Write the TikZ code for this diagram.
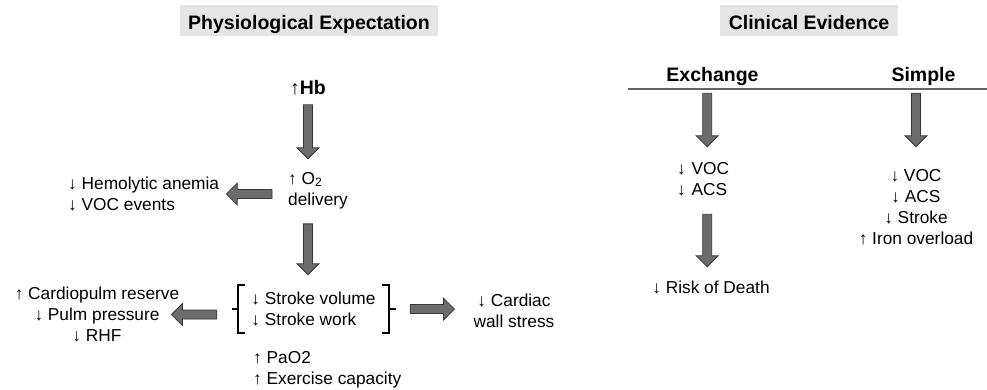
\documentclass[tikz,border=0pt]{standalone}
\usepackage{fontspec}
\setmainfont{Liberation Sans}
\usetikzlibrary{calc}
\definecolor{titlebg}{RGB}{229,229,229}
\definecolor{arrowfill}{RGB}{108,108,108}
\definecolor{arrowdraw}{RGB}{55,55,55}
\definecolor{rulegray}{RGB}{100,100,100}
\tikzset{
  txt/.style={font=\fontsize{17.3}{21}\selectfont, inner sep=0pt, text=black},
  hdr/.style={font=\bfseries\fontsize{19.5}{23}\selectfont, inner sep=0pt, text=black},
  titlebox/.style={fill=titlebg, font=\bfseries\fontsize{19.5}{23}\selectfont,
    inner sep=0pt, minimum height=31pt, text height=24.3pt, text depth=6.7pt},
  brk/.style={draw=black, line width=1.6pt},
  hline/.style={draw=rulegray, line width=1.3pt},
  barrow/.style 2 args={draw=arrowdraw, fill=arrowfill, line width=0.8pt, line join=miter,
    to path={
      ($(\tikztostart)!#1!(\tikztotarget)!4.5pt!90:(\tikztotarget)$)
      -- ($(\tikztotarget)!#2!(\tikztostart)!11pt!(\tikztostart)!4.5pt!90:(\tikztotarget)$)
      -- ($(\tikztotarget)!#2!(\tikztostart)!11pt!(\tikztostart)!11pt!90:(\tikztotarget)$)
      -- ($(\tikztotarget)!#2!(\tikztostart)$)
      -- ($(\tikztotarget)!#2!(\tikztostart)!11pt!(\tikztostart)!11pt!-90:(\tikztotarget)$)
      -- ($(\tikztotarget)!#2!(\tikztostart)!11pt!(\tikztostart)!4.5pt!-90:(\tikztotarget)$)
      -- ($(\tikztostart)!#1!(\tikztotarget)!4.5pt!-90:(\tikztotarget)$)
      -- cycle}}
}
\begin{document}
\begin{tikzpicture}[x=1pt,y=-1pt]
\useasboundingbox (0,0) rectangle (987,390);

% titles
\node[titlebox, minimum width=258pt] (t1) at (309,20.5) {Physiological Expectation};
\node[titlebox, minimum width=178pt] (t2) at (809,20.5) {Clinical Evidence};

% left panel
\node[hdr, anchor=base] (hb) at (308,95) {↑Hb};
\node[txt, anchor=north west, align=left] (o2) at (288,171.8) {↑ O\textsubscript{2}\\delivery};
\node[txt, anchor=north west, align=left] (hemo) at (68,176.8) {↓ Hemolytic anemia\\↓ VOC events};
\node[txt, align=left, inner xsep=13.5pt, minimum height=48pt] (stroke) at (313.5,309) {↓ Stroke volume\\↓ Stroke work};
\node[txt, anchor=north, align=center] (cardio) at (97,286.8) {↑ Cardiopulm reserve\\↓ Pulm pressure\\↓ RHF};
\node[txt, anchor=north, align=center] (cardiac) at (514,293.8) {↓ Cardiac\\wall stress};
\node[txt, anchor=north west, align=left] (pao2) at (253,350.8) {↑ PaO2\\↑ Exercise capacity};

% brackets
\draw[brk] ([xshift=7pt]stroke.north west) -- (stroke.north west) -- (stroke.south west) -- ([xshift=7pt]stroke.south west);
\draw[brk] (stroke.west) -- ++(-6,0);
\draw[brk] ([xshift=-7pt]stroke.north east) -- (stroke.north east) -- (stroke.south east) -- ([xshift=-7pt]stroke.south east);
\draw[brk] (stroke.east) -- ++(7,0);

% right panel
\node[hdr, anchor=base] (exch) at (712.5,82) {Exchange};
\node[hdr, anchor=base] (simp) at (923.5,82) {Simple};
\draw[hline] (628,89) -- (987,89);
\node[txt, anchor=north west, align=left, text width=60pt] (voc1) at (677,161.8) {↓ VOC\\↓ ACS};
\node[txt, anchor=north] (death) at (711,280.8) {↓ Risk of Death};
\node[txt, anchor=north, align=center] (slist) at (916,168.8) {↓ VOC\\↓ ACS\\↓ Stroke\\↑ Iron overload};

% block arrows
\draw[barrow={9pt}{13pt}] (hb.south) to (hb.south |- o2.north);
\draw[barrow={16pt}{7pt}] (hemo.east -| o2.west) to (hemo.east);
\draw[barrow={15pt}{10pt}] (hb.south |- o2.south) to (hb.south |- stroke.north);
\draw[barrow={21pt}{-8pt}] (cardio.east -| stroke.west) to (cardio.east);
\draw[barrow={21pt}{19pt}] (stroke.east) to (stroke.east -| cardiac.west);
\draw[barrow={7pt}{15pt}] (voc1.north |- exch.south) to (voc1.north);
\draw[barrow={18.5pt}{14pt}] (voc1.south) to (voc1.south |- death.north);
\draw[barrow={7pt}{22pt}] (slist.north |- simp.south) to (slist.north);
\end{tikzpicture}
\end{document}
